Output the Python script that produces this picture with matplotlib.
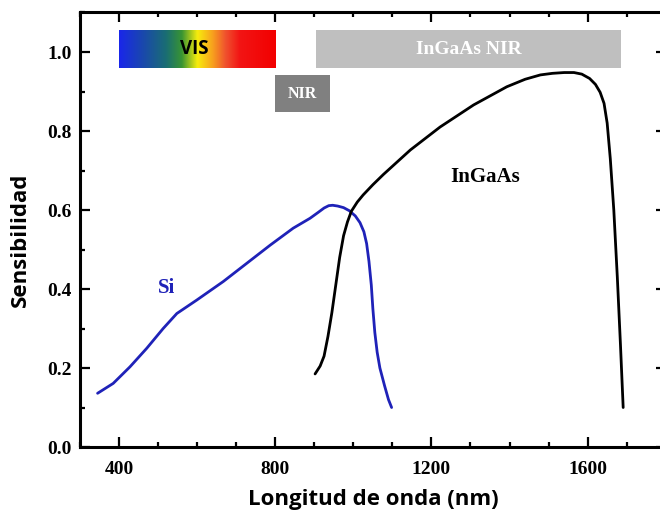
import numpy as np
import matplotlib
matplotlib.use("Agg")
import matplotlib.pyplot as plt
from matplotlib.colors import LinearSegmentedColormap
from matplotlib.ticker import MultipleLocator

# Spectral response of silicon and InGaAs detectors
si_nm = [345, 385, 428, 471, 513, 548, 599, 667, 727, 787, 846, 889, 910, 925,
         937, 947, 960, 975, 990, 1005, 1017, 1027, 1034, 1040, 1046, 1050, 1055,
         1061, 1068, 1080, 1090, 1098]
si_resp = [0.136, 0.161, 0.203, 0.250, 0.300, 0.338, 0.372, 0.419, 0.465, 0.511,
           0.554, 0.579, 0.594, 0.605, 0.611, 0.612, 0.610, 0.606, 0.598, 0.585,
           0.568, 0.545, 0.515, 0.47, 0.41, 0.35, 0.29, 0.24, 0.20, 0.155,
           0.12, 0.10]

ingaas_nm = [902, 915, 925, 935, 945, 955, 965, 975, 985, 995, 1010, 1025, 1050,
             1077, 1146, 1222, 1308, 1393, 1440, 1479, 1510, 1540, 1565, 1585,
             1605, 1620, 1632, 1642, 1650, 1658, 1667, 1676, 1684, 1691]
ingaas_resp = [0.185, 0.205, 0.23, 0.28, 0.34, 0.41, 0.48, 0.535, 0.57, 0.597,
               0.62, 0.638, 0.664, 0.69, 0.752, 0.81, 0.866, 0.912, 0.931, 0.942,
               0.946, 0.948, 0.948, 0.944, 0.933, 0.918, 0.898, 0.87, 0.82, 0.73,
               0.60, 0.43, 0.26, 0.10]

# Spectral bands shown as bars: (start nm, end nm, bottom, top)
vis_band = (400, 800, 0.96, 1.055)
nir_band = (800, 940, 0.848, 0.943)
ingaas_band = (905, 1685, 0.96, 1.055)

x_ticks = [400, 800, 1200, 1600]
y_ticks = [0.0, 0.2, 0.4, 0.6, 0.8, 1.0]

serif = "Liberation Serif"
sans = "Open Sans"
si_color = "#1f22b8"

fig = plt.figure(figsize=(6.6, 5.23), dpi=100)
ax = fig.add_axes([0.1212, 0.1453, 0.8875, 0.8308])
ax.set_xlim(300, 1800)
ax.set_ylim(0.0, 1.1)

# Visible spectrum gradient bar
spectrum = LinearSegmentedColormap.from_list("vis", [
    (0.00, (0.10, 0.15, 0.92)),
    (0.15, (0.10, 0.28, 0.68)),
    (0.30, (0.10, 0.43, 0.45)),
    (0.40, (0.22, 0.58, 0.20)),
    (0.50, (0.97, 0.93, 0.05)),
    (0.60, (0.97, 0.62, 0.12)),
    (0.68, (0.94, 0.32, 0.18)),
    (0.77, (0.95, 0.08, 0.08)),
    (1.00, (0.95, 0.00, 0.00)),
])
grad = np.linspace(0, 1, 256).reshape(1, -1)
ax.imshow(grad, cmap=spectrum, aspect="auto", interpolation="bicubic",
          extent=[vis_band[0], vis_band[1], vis_band[2], vis_band[3]], zorder=1)
ax.text((vis_band[0] + vis_band[1]) / 2 - 6, (vis_band[2] + vis_band[3]) / 2, "VIS",
        family=sans, weight="bold", fontsize=13.5, color="black",
        ha="center", va="center", zorder=3)

# NIR and InGaAs NIR bars
ax.fill_between([nir_band[0], nir_band[1]], nir_band[2], nir_band[3],
                color="#808080", lw=0, zorder=1)
ax.text((nir_band[0] + nir_band[1]) / 2, (nir_band[2] + nir_band[3]) / 2 - 0.002, "NIR",
        family=serif, weight="bold", fontsize=11.5, color="white",
        ha="center", va="center", zorder=3)
ax.fill_between([ingaas_band[0], ingaas_band[1]], ingaas_band[2], ingaas_band[3],
                color="#bfbfbf", lw=0, zorder=1)
ax.text((ingaas_band[0] + ingaas_band[1]) / 2, (ingaas_band[2] + ingaas_band[3]) / 2 - 0.002,
        "InGaAs NIR", family=serif, weight="bold", fontsize=14, color="white",
        ha="center", va="center", zorder=3)

# Detector response curves
ax.plot(si_nm, si_resp, color=si_color, lw=2.0, solid_capstyle="round",
        solid_joinstyle="round", zorder=4)
ax.plot(ingaas_nm, ingaas_resp, color="black", lw=2.0, solid_capstyle="round",
        solid_joinstyle="round", zorder=4)
ax.text(522, 0.402, "Si", family=serif, weight="bold", fontsize=15,
        color=si_color, ha="center", va="center")
ax.text(1337, 0.684, "InGaAs", family=serif, weight="bold", fontsize=15,
        color="black", ha="center", va="center")

# Axes styling
ax.set_xticks(x_ticks)
ax.set_yticks(y_ticks)
ax.xaxis.set_minor_locator(MultipleLocator(100))
ax.yaxis.set_minor_locator(MultipleLocator(0.1))
ax.set_yticklabels([f"{v:.1f}" for v in y_ticks])
ax.tick_params(which="both", direction="in", top=True, right=True, width=1.6)
ax.tick_params(which="major", length=7)
ax.tick_params(axis="x", which="major", pad=10)
ax.tick_params(axis="y", which="major", pad=6)
ax.tick_params(which="minor", length=3.6)
for lbl in ax.get_xticklabels() + ax.get_yticklabels():
    lbl.set_family(serif)
    lbl.set_weight("bold")
    lbl.set_fontsize(14)
for sp in ax.spines.values():
    sp.set_linewidth(2.2)

ax.set_xlabel("Longitud de onda (nm)", family=sans, weight="bold", fontsize=16, labelpad=8)
ax.set_ylabel("Sensibilidad", family=sans, weight="bold", fontsize=16)
ax.yaxis.set_label_coords(-0.083, 0.476)

fig.savefig("out.png", dpi=100)
